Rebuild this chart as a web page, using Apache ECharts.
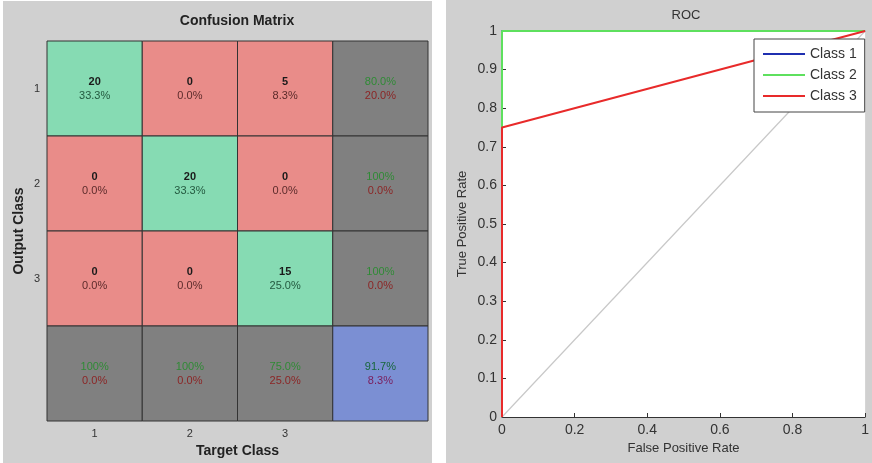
<!DOCTYPE html>
<html>
<head>
<meta charset="utf-8">
<script src="https://cdn.jsdelivr.net/npm/echarts@6/dist/echarts.min.js"></script>
<style>
  html, body { margin: 0; padding: 0; background: #fff; }
  #main { width: 872px; height: 463px; }
</style>
</head>
<body>
<div id="main"></div>
<script>
  // confusion matrix values (rows = output class, cols = target class)
  const targetLabels = ['1', '2', '3', '']
  const outputLabels = ['1', '2', '3', '']
  const counts = [[20, 0, 5], [0, 20, 0], [0, 0, 15]]
  const cellPct = [['33.3%', '0.0%', '8.3%'], ['0.0%', '33.3%', '0.0%'], ['0.0%', '0.0%', '25.0%']]
  const rowRight = ['80.0%', '100%', '100%']
  const rowWrong = ['20.0%', '0.0%', '0.0%']
  const colRight = ['100%', '100%', '75.0%']
  const colWrong = ['0.0%', '0.0%', '25.0%']
  const totalRight = '91.7%'
  const totalWrong = '8.3%'

  // ROC curves
  const fprClass1 = [0, 0, 1]
  const tprClass1 = [0, 1, 1]
  const fprClass2 = [0, 0, 1]
  const tprClass2 = [0, 1, 1]
  const fprClass3 = [0, 0, 1]
  const tprClass3 = [0, 0.75, 1]
  const chanceLine = [0, 1]

  const pair = (xs, ys) => xs.map((x, i) => [x, ys[i]])

  // build cells: [col, row, kind, top text, bottom text]
  let cells = []
  counts.forEach((row, r) => {
    row.forEach((v, c) => {
      cells.push([c, r, r === c ? 'hit' : 'miss', String(v), cellPct[r][c]])
    })
    cells.push([3, r, 'sum', rowRight[r], rowWrong[r]])
  })
  colRight.forEach((v, c) => {
    cells.push([c, 3, 'sum', v, colWrong[c]])
  })
  cells.push([3, 3, 'total', totalRight, totalWrong])

  const fills = {hit: '#86dbb3', miss: '#e98c89', sum: '#808080', total: '#7b8fd3'}
  const font = 'Liberation Sans, Arial, sans-serif'

  function renderCell(params, api) {
    const cell = cells[params.dataIndex]
    const p = api.coord([api.value(0), api.value(1)])
    const s = api.size([1, 1])
    const kind = cell[2]
    let topStyle, botStyle
    if (kind === 'hit' || kind === 'miss') {
      topStyle = {fontWeight: 'bold', fill: '#1a1a1a'}
      botStyle = {fill: kind === 'hit' ? '#245a40' : '#5c2b2b'}
    } else if (kind === 'sum') {
      topStyle = {fill: '#2f8a35'}
      botStyle = {fill: '#8b2525'}
    } else {
      topStyle = {fill: '#17663a'}
      botStyle = {fill: '#7a1d5c'}
    }
    return {
      type: 'group',
      children: [
        {
          type: 'rect',
          shape: {x: p[0] - s[0] / 2, y: p[1] - s[1] / 2, width: s[0], height: s[1]},
          style: {fill: fills[kind], stroke: '#333', lineWidth: 1}
        },
        {
          type: 'text',
          x: p[0],
          y: p[1],
          style: {
            text: '{a|' + cell[3] + '}\n{b|' + cell[4] + '}',
            align: 'center',
            verticalAlign: 'middle',
            rich: {
              a: Object.assign({fontSize: 11, lineHeight: 14, fontFamily: font}, topStyle),
              b: Object.assign({fontSize: 11, lineHeight: 14, fontFamily: font}, botStyle)
            }
          }
        }
      ]
    }
  }

  let option = {
    backgroundColor: '#fff',
    animation: false,
    textStyle: {fontFamily: font},
    graphic: [
      {type: 'rect', z: -10, shape: {x: 3, y: 1, width: 429, height: 462}, style: {fill: '#d0d0d0'}},
      {type: 'rect', z: -10, shape: {x: 446, y: 0, width: 426, height: 463}, style: {fill: '#d0d0d0'}}
    ],
    title: [
      {
        text: 'Confusion Matrix',
        left: 237,
        top: 14,
        textAlign: 'center',
        padding: 0,
        textStyle: {fontSize: 14, fontWeight: 'bold', color: '#222', fontFamily: font}
      },
      {
        text: 'ROC',
        left: 686,
        top: 9,
        textAlign: 'center',
        padding: 0,
        textStyle: {fontSize: 13, fontWeight: 'normal', color: '#333', fontFamily: font}
      }
    ],
    legend: {
      data: ['Class 1', 'Class 2', 'Class 3'],
      orient: 'vertical',
      left: 754,
      top: 39,
      icon: 'rect',
      itemWidth: 42,
      itemHeight: 2,
      itemGap: 5,
      padding: [7, 8, 8, 9],
      backgroundColor: '#fff',
      borderColor: '#444',
      borderWidth: 1,
      borderRadius: 0,
      textStyle: {fontSize: 14, lineHeight: 16, color: '#333', fontFamily: font}
    },
    grid: [
      {left: 47, top: 41, width: 381, height: 380, show: true, backgroundColor: 'transparent', borderWidth: 0},
      {left: 502, top: 31, width: 368, height: 386, show: true, backgroundColor: '#fff', borderWidth: 0}
    ],
    xAxis: [
      {
        gridIndex: 0,
        type: 'category',
        data: targetLabels,
        axisLine: {show: false},
        axisTick: {show: false},
        axisLabel: {fontSize: 11, color: '#333', margin: 7},
        name: 'Target Class',
        nameLocation: 'middle',
        nameGap: 22,
        nameTextStyle: {fontSize: 14, fontWeight: 'bold', color: '#222'}
      },
      {
        gridIndex: 1,
        type: 'value',
        min: 0,
        max: 1,
        interval: 0.2,
        splitLine: {show: false},
        axisLine: {lineStyle: {color: '#333'}},
        axisTick: {inside: true, length: 4, lineStyle: {color: '#333'}},
        axisLabel: {fontSize: 14, color: '#333', margin: 6},
        name: 'False Positive Rate',
        nameLocation: 'middle',
        nameGap: 24,
        nameTextStyle: {fontSize: 13, color: '#333'}
      }
    ],
    yAxis: [
      {
        gridIndex: 0,
        type: 'category',
        inverse: true,
        data: outputLabels,
        axisLine: {show: false},
        axisTick: {show: false},
        axisLabel: {fontSize: 11, color: '#333', margin: 7},
        name: 'Output Class',
        nameLocation: 'middle',
        nameGap: 21,
        nameTextStyle: {fontSize: 14, fontWeight: 'bold', color: '#222'}
      },
      {
        gridIndex: 1,
        type: 'value',
        min: 0,
        max: 1,
        interval: 0.1,
        splitLine: {show: false},
        axisLine: {show: true, lineStyle: {color: '#333'}},
        axisTick: {show: true, inside: true, length: 4, lineStyle: {color: '#333'}},
        axisLabel: {fontSize: 14, color: '#333', margin: 5},
        name: 'True Positive Rate',
        nameLocation: 'middle',
        nameGap: 33,
        nameTextStyle: {fontSize: 13, color: '#333'}
      }
    ],
    series: [
      {
        type: 'custom',
        xAxisIndex: 0,
        yAxisIndex: 0,
        renderItem: renderCell,
        data: cells.map(c => [c[0], c[1]])
      },
      {
        name: 'chance',
        type: 'line',
        xAxisIndex: 1,
        yAxisIndex: 1,
        symbol: 'none',
        silent: true,
        lineStyle: {color: '#c8c8c8', width: 1.2},
        data: pair(chanceLine, chanceLine)
      },
      {
        name: 'Class 1',
        type: 'line',
        xAxisIndex: 1,
        yAxisIndex: 1,
        symbol: 'none',
        color: '#1f2fb0',
        lineStyle: {width: 2},
        data: pair(fprClass1, tprClass1)
      },
      {
        name: 'Class 2',
        type: 'line',
        xAxisIndex: 1,
        yAxisIndex: 1,
        symbol: 'none',
        color: '#5ee05e',
        lineStyle: {width: 2},
        data: pair(fprClass2, tprClass2)
      },
      {
        name: 'Class 3',
        type: 'line',
        xAxisIndex: 1,
        yAxisIndex: 1,
        symbol: 'none',
        color: '#e82a2a',
        lineStyle: {width: 2},
        data: pair(fprClass3, tprClass3)
      }
    ]
  }

  let mychart = echarts.init(document.getElementById('main'))
  mychart.setOption(option)
  window.onresize = mychart.resize
</script>
</body>
</html>
